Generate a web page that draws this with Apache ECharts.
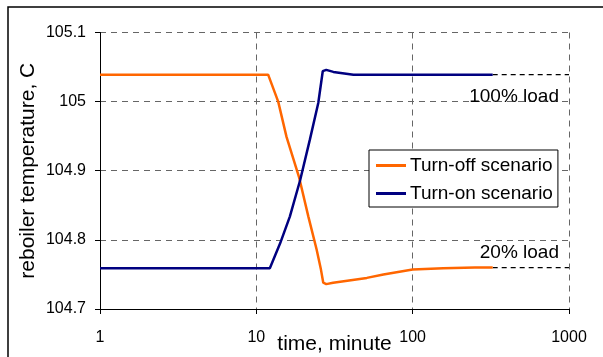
<!DOCTYPE html>
<html>
<head>
<meta charset="utf-8">
<script src="https://cdn.jsdelivr.net/npm/echarts@6/dist/echarts.min.js"></script>
<style>html,body{margin:0;padding:0;background:#fff}#c{width:603px;height:357px}</style>
</head>
<body>
<div id="c"></div>
<script>
// time, minute (log scale)
var offTime = [1, 11.9, 13.8, 15.6, 18.8, 21.5, 24.3, 25.9, 26.8, 28, 31, 50.9, 65, 100, 157, 250, 325];
var offTemp = [105.039, 105.039, 105.0, 104.949, 104.890, 104.834, 104.786, 104.757, 104.738, 104.736, 104.738, 104.745, 104.750, 104.757, 104.759, 104.760, 104.760];
var onTime = [1, 12.2, 14.2, 16.4, 19.1, 22.0, 24.9, 26.6, 28, 31.1, 41.8, 100, 325];
var onTemp = [104.759, 104.759, 104.795, 104.834, 104.887, 104.945, 104.998, 105.044, 105.046, 105.043, 105.039, 105.039, 105.039];
var loadTime = [325, 1000];
var load100 = [105.039, 105.039];
var load20 = [104.760, 104.760];
var yTicks = [104.7, 104.8, 104.9, 105, 105.1];
var xTicks = [1, 10, 100, 1000];

function pairs(xs, ys) { return xs.map(function (x, i) { return [x, ys[i]]; }); }

var FONT = 'Liberation Sans, Arial, sans-serif';
function loadMark(text, x, y, pos, dist) {
  return {
    symbol: 'circle', symbolSize: 1, silent: true,
    itemStyle: {color: 'rgba(0,0,0,0)'},
    data: [{coord: [x, y],
      label: {show: true, position: pos, distance: dist, align: 'right', offset: [-10, 0],
        formatter: text, fontFamily: FONT, fontSize: 19, color: '#000'}}]
  };
}
var chart = echarts.init(document.getElementById('c'), null, {renderer: 'canvas'});
chart.setOption({
  animation: false,
  backgroundColor: '#fff',
  textStyle: {fontFamily: FONT, color: '#000'},
  grid: {left: 100, top: 32.5, right: 34, bottom: 48, containLabel: false, outerBoundsMode: 'none'},
  graphic: [{
    type: 'rect', shape: {x: 8, y: 7, width: 700, height: 400},
    style: {fill: null, stroke: '#000', lineWidth: 1.5}, silent: true, z: -1
  }],
  legend: {
    orient: 'vertical', left: 369, top: 150,
    data: ['Turn-off scenario', 'Turn-on scenario'],
    icon: 'rect', itemWidth: 30, itemHeight: 3, itemGap: 9,
    padding: [6, 5, 4, 7],
    backgroundColor: '#fff', borderColor: '#000', borderWidth: 1, borderRadius: 0,
    textStyle: {fontFamily: FONT, fontSize: 19, color: '#000', padding: [0, 0, 0, -1]}
  },
  xAxis: {
    type: 'log', logBase: 10, min: 1, max: 1000,
    name: 'time, minute', nameLocation: 'middle', nameGap: 25, nameMoveOverlap: false,
    nameTextStyle: {fontFamily: FONT, fontSize: 21, color: '#000'},
    axisLine: {show: true, onZero: false, lineStyle: {color: '#000', width: 1}},
    axisTick: {show: true, inside: false, length: 5, lineStyle: {color: '#000'}},
    axisLabel: {fontFamily: FONT, fontSize: 16, color: '#000', margin: 21,
      formatter: function (v) { return xTicks.indexOf(Math.round(v)) >= 0 ? String(Math.round(v)) : ''; }},
    splitLine: {show: true, lineStyle: {color: '#666', type: [6, 5], width: 1}},
    minorTick: {show: false}
  },
  yAxis: {
    type: 'value', min: yTicks[0], max: yTicks[yTicks.length - 1], interval: 0.1,
    name: 'reboiler temperature, C', nameLocation: 'middle', nameGap: 61, nameRotate: 90, nameMoveOverlap: false,
    nameTextStyle: {fontFamily: FONT, fontSize: 21, color: '#000'},
    axisLine: {show: true, lineStyle: {color: '#000', width: 1}},
    axisTick: {show: true, inside: false, length: 5, lineStyle: {color: '#000'}},
    axisLabel: {fontFamily: FONT, fontSize: 16, color: '#000', margin: 14,
      formatter: function (v) { return String(Math.round(v * 10) / 10); }},
    splitLine: {show: true, lineStyle: {color: '#666', type: [6, 5], width: 1}}
  },
  series: [
    {
      name: 'Turn-off scenario', type: 'line', data: pairs(offTime, offTemp),
      symbol: 'none', lineStyle: {color: '#FF6600', width: 2.5}, itemStyle: {color: '#FF6600'}, z: 5
    },
    {
      name: 'Turn-on scenario', type: 'line', data: pairs(onTime, onTemp),
      symbol: 'none', lineStyle: {color: '#000080', width: 2.5}, itemStyle: {color: '#000080'}, z: 5
    },
    {
      name: '100% load', type: 'line', symbol: 'none', silent: true,
      lineStyle: {color: '#000', width: 1.3, type: [5, 4]},
      data: pairs(loadTime, load100),
      markPoint: loadMark('100% load', loadTime[1], load100[1], 'bottom', 12)
    },
    {
      name: '20% load', type: 'line', symbol: 'none', silent: true,
      lineStyle: {color: '#000', width: 1.3, type: [5, 4]},
      data: pairs(loadTime, load20),
      markPoint: loadMark('20% load', loadTime[1], load20[1], 'top', 5)
    }
  ]
});
</script>
</body>
</html>
